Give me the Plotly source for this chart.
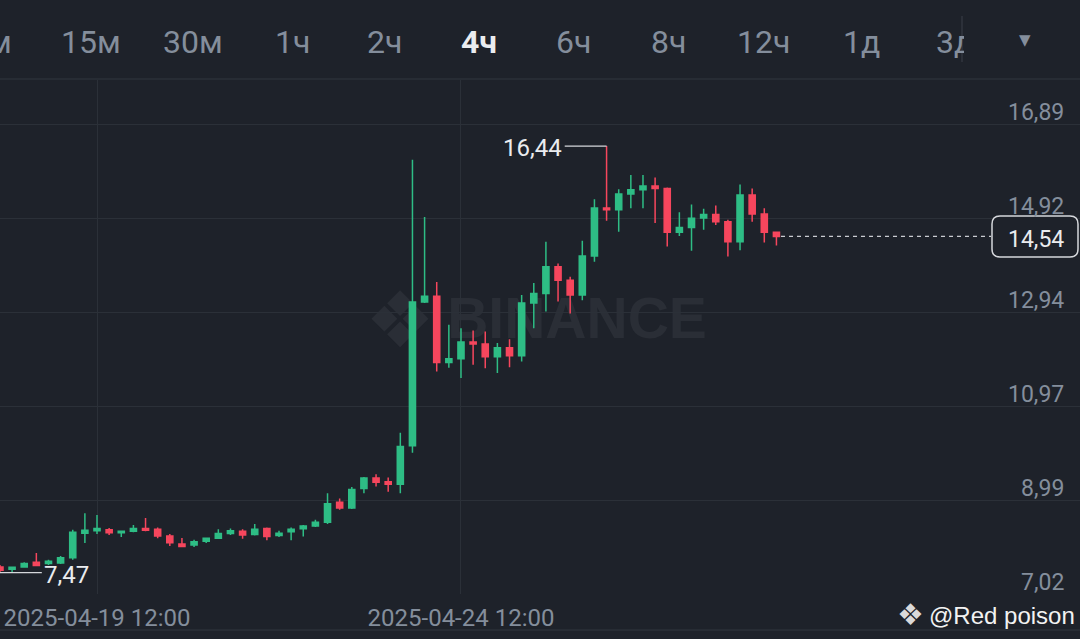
import plotly.graph_objects as go
import pandas as pd

# ---------------- data (4h candles) ----------------
times = pd.date_range("2025-04-18 04:00", periods=65, freq="4h")

opens = [7.59, 7.54, 7.59, 7.69, 7.66, 7.67, 7.78, 8.30, 8.35, 8.37,
         8.31, 8.34, 8.40, 8.38, 8.24, 8.07, 8.05, 8.13, 8.19, 8.29,
         8.34, 8.27, 8.40, 8.25, 8.33, 8.39, 8.45, 8.53, 8.95, 8.83,
         9.24, 9.46, 9.38, 9.33, 10.14, 13.16, 13.28, 11.89, 11.97, 12.32,
         12.28, 12.01, 12.20, 12.03, 13.14, 13.34, 13.90, 13.62, 13.31, 14.13,
         15.14, 15.10, 15.43, 15.52, 15.60, 15.55, 14.63, 14.73, 14.93, 15.00,
         14.85, 14.43, 15.41, 15.01, 14.63]
highs = [7.63, 7.59, 7.69, 7.88, 7.74, 7.82, 8.37, 8.72, 8.68, 8.41,
         8.35, 8.47, 8.62, 8.42, 8.28, 8.20, 8.16, 8.20, 8.38, 8.40,
         8.38, 8.49, 8.42, 8.35, 8.42, 8.47, 8.58, 9.14, 9.03, 9.27,
         9.48, 9.54, 9.47, 10.41, 16.15, 14.95, 13.58, 12.68, 12.61, 12.56,
         12.54, 12.30, 12.38, 13.31, 13.56, 14.43, 13.97, 13.69, 14.45, 15.32,
         16.44, 15.53, 15.83, 15.83, 15.78, 15.57, 15.05, 15.21, 15.12, 15.19,
         14.89, 15.63, 15.55, 15.13, 14.64]
lows = [7.47, 7.48, 7.57, 7.61, 7.63, 7.65, 7.74, 8.09, 8.28, 8.26,
        8.22, 8.32, 8.34, 8.19, 8.03, 8.01, 8.01, 8.09, 8.18, 8.26,
        8.18, 8.25, 8.15, 8.22, 8.15, 8.23, 8.43, 8.49, 8.79, 8.81,
        9.14, 9.28, 9.17, 9.14, 9.99, 13.14, 11.70, 11.78, 11.56, 11.84,
        11.77, 11.67, 11.79, 11.91, 12.61, 12.96, 13.17, 12.92, 13.20, 14.01,
        14.87, 14.64, 15.13, 15.13, 14.82, 14.33, 14.55, 14.24, 14.68, 14.78,
        14.12, 14.25, 14.85, 14.41, 14.35]
closes = [7.52, 7.58, 7.66, 7.62, 7.71, 7.78, 8.32, 8.36, 8.40, 8.31,
          8.34, 8.40, 8.36, 8.24, 8.10, 8.02, 8.12, 8.19, 8.29, 8.35,
          8.26, 8.38, 8.23, 8.30, 8.38, 8.45, 8.53, 8.92, 8.83, 9.22,
          9.46, 9.37, 9.33, 10.12, 13.16, 13.28, 11.89, 11.97, 12.32, 12.28,
          12.01, 12.20, 12.03, 13.14, 13.34, 13.90, 13.62, 13.31, 14.13, 15.14,
          15.10, 15.43, 15.52, 15.60, 15.55, 14.63, 14.73, 14.92, 15.00, 14.85,
          14.43, 15.41, 15.01, 14.63, 14.54]

y_ticks = [7.02, 8.99, 10.97, 12.94, 14.92, 16.89]
y_tick_labels = ["7,02", "8,99", "10,97", "12,94", "14,92", "16,89"]
x_ticks = ["2025-04-19 12:00", "2025-04-24 12:00"]
tabs = ["15м", "30м", "1ч", "2ч", "4ч", "6ч", "8ч", "12ч", "1д"]
tab_x = [91, 193, 292, 385, 479, 573, 668, 763, 861]
active_tab = "4ч"

# ---------------- styles ----------------
W, H = 1080, 639
BG = "#1E222A"
GRID = "#2B3038"
GREEN = "#2EBD85"
RED = "#F6465D"
GRAY = "#848E9C"
WHITE = "#EAECEF"
WM = "#2A2E36"
FONT = "Roboto"


def px(x):
    return x / W


def py(y):
    return 1 - y / H


fig = go.Figure(go.Candlestick(
    x=times, open=opens, high=highs, low=lows, close=closes,
    increasing=dict(line=dict(color=GREEN, width=1.5), fillcolor=GREEN),
    decreasing=dict(line=dict(color=RED, width=1.5), fillcolor=RED),
    whiskerwidth=0, hoverinfo="skip",
))

fig.update_layout(
    width=W, height=H, margin=dict(l=0, r=0, t=0, b=0),
    paper_bgcolor=BG, plot_bgcolor=BG, showlegend=False, boxgap=0.28,
    font=dict(family=FONT, color=GRAY),
    xaxis=dict(
        type="date", range=["2025-04-18 04:01", "2025-05-03 00:05"],
        domain=[0, 1], tickvals=x_ticks, tickformat="%Y-%m-%d %H:%M",
        showgrid=True, gridcolor=GRID, gridwidth=1, zeroline=False,
        showline=False, ticks="outside", ticklen=2, tickcolor=BG,
        tickfont=dict(family=FONT, size=24, color=GRAY),
        rangeslider=dict(visible=False), fixedrange=True,
    ),
    yaxis=dict(
        domain=[py(594), py(80)], range=[7.02, 7.02 + 514 / 47.55],
        tickvals=y_ticks, showticklabels=False, showgrid=True,
        gridcolor=GRID, gridwidth=1, zeroline=False, side="right",
        fixedrange=True,
    ),
)

annotations = []
shapes = []

# watermark (drawn below the candles)
shapes.append(dict(type="rect", xref="paper", yref="paper", layer="below",
                   x0=px(360), x1=px(440), y0=py(350), y1=py(278),
                   line=dict(width=0), fillcolor="rgba(0,0,0,0)",
                   label=dict(text="❖", textposition="middle center",
                              font=dict(family="DejaVu Sans", size=78, color=WM))))
shapes.append(dict(type="rect", xref="paper", yref="paper", layer="below",
                   x0=px(440), x1=px(714), y0=py(340), y1=py(286),
                   line=dict(width=0), fillcolor="rgba(0,0,0,0)",
                   label=dict(text="<b>BINANCE</b>", textposition="middle center",
                              font=dict(family="Liberation Sans", size=57, color=WM))))

# y tick labels above grid lines
for v, t in zip(y_ticks, y_tick_labels):
    annotations.append(dict(x=px(1066), xref="paper", y=v, yref="y", text=t,
                            showarrow=False, xanchor="right", yanchor="middle",
                            yshift=12, font=dict(family=FONT, size=23, color=GRAY)))

# top bar tabs
annotations.append(dict(x=px(14), y=py(42), xref="paper", yref="paper", text="5м",
                        showarrow=False, xanchor="right", yanchor="middle",
                        font=dict(family=FONT, size=32, color=GRAY)))
for t, xc in zip(tabs, tab_x):
    bold = t == active_tab
    annotations.append(dict(x=px(xc), y=py(42), xref="paper", yref="paper",
                            text=f"<b>{t}</b>" if bold else t, showarrow=False,
                            xanchor="center", yanchor="middle",
                            font=dict(family=FONT, size=32, color=WHITE if bold else GRAY)))
annotations.append(dict(x=px(934), y=py(42), xref="paper", yref="paper", text="3д",
                        showarrow=False, xanchor="left", yanchor="middle", align="left",
                        width=28, font=dict(family=FONT, size=32, color=GRAY)))
annotations.append(dict(x=px(1025), y=py(40), xref="paper", yref="paper", text="▼",
                        showarrow=False, xanchor="center", yanchor="middle",
                        font=dict(family="DejaVu Sans", size=15, color=GRAY)))
shapes.append(dict(type="line", xref="paper", yref="paper", x0=px(962), x1=px(962),
                   y0=py(16), y1=py(62), line=dict(color="#3A3F48", width=1)))
shapes.append(dict(type="line", xref="paper", yref="paper", x0=0, x1=1,
                   y0=py(79), y1=py(79), line=dict(color=GRID, width=1.5)))
shapes.append(dict(type="line", xref="paper", yref="paper", x0=0, x1=1,
                   y0=py(630), y1=py(630), line=dict(color=GRID, width=1.5)))

# high / low markers
hi_i = highs.index(max(highs))
lo_i = lows.index(min(lows))
hi_t = times[hi_i]
lo_t = times[lo_i]
span = pd.Timedelta(hours=13.8)
shapes.append(dict(type="line", xref="x", yref="y", x0=hi_t - span, x1=hi_t,
                   y0=highs[hi_i], y1=highs[hi_i], line=dict(color="#D5D7DB", width=1.2)))
annotations.append(dict(x=hi_t - span, xref="x", y=highs[hi_i], yref="y",
                        text=f"{highs[hi_i]:.2f}".replace(".", ","), showarrow=False,
                        xanchor="right", yanchor="middle", yshift=-2, xshift=-1,
                        font=dict(family=FONT, size=24, color=WHITE)))
shapes.append(dict(type="line", xref="x", yref="y", x0=lo_t - pd.Timedelta(hours=1), x1=lo_t + span,
                   y0=lows[lo_i], y1=lows[lo_i], line=dict(color="#D5D7DB", width=1.2)))
annotations.append(dict(x=lo_t + span, xref="x", y=lows[lo_i], yref="y",
                        text=f"{lows[lo_i]:.2f}".replace(".", ","), showarrow=False,
                        xanchor="left", yanchor="middle", yshift=-2, xshift=0,
                        font=dict(family=FONT, size=24, color=WHITE)))

# last price line + label box
last = closes[-1]
shapes.append(dict(type="line", xref="paper", yref="y", x0=px(781), x1=px(991),
                   y0=last, y1=last, line=dict(color="#C9CCD1", width=1.2, dash="4px,4px")))
x0b, x1b = px(992), px(1078)
hh = 20.5 / 47.55
rx, ry = 8 / W, 8 / 47.55
y0b, y1b = last - hh, last + hh
path = (f"M {x0b + rx},{y1b} L {x1b - rx},{y1b} Q {x1b},{y1b} {x1b},{y1b - ry} "
        f"L {x1b},{y0b + ry} Q {x1b},{y0b} {x1b - rx},{y0b} L {x0b + rx},{y0b} "
        f"Q {x0b},{y0b} {x0b},{y0b + ry} L {x0b},{y1b - ry} Q {x0b},{y1b} {x0b + rx},{y1b} Z")
shapes.append(dict(type="path", xref="paper", yref="y", path=path,
                   fillcolor=BG, line=dict(color="#D5D7DB", width=1.5), layer="above"))
annotations.append(dict(x=px(1036), xref="paper", y=last, yref="y",
                        text=f"{last:.2f}".replace(".", ","), showarrow=False,
                        xanchor="center", yanchor="middle", yshift=-3,
                        font=dict(family=FONT, size=23, color=WHITE)))

# author mark
annotations.append(dict(x=px(910), y=py(614), xref="paper", yref="paper", text="❖",
                        showarrow=False, xanchor="center", yanchor="middle",
                        font=dict(family="DejaVu Sans", size=30, color="#DADADA")))
annotations.append(dict(x=px(927), y=py(615), xref="paper", yref="paper", text="@Red poison",
                        showarrow=False, xanchor="left", yanchor="middle",
                        font=dict(family="Liberation Sans", size=24, color="#F2F2F2")))

fig.update_layout(annotations=annotations, shapes=shapes)
fig.write_html(
    "out.html",
    config={"displayModeBar": False},
    post_script="document.body.style.margin='0';document.body.style.padding='0';"
                "document.body.style.background='" + BG + "';",
)
